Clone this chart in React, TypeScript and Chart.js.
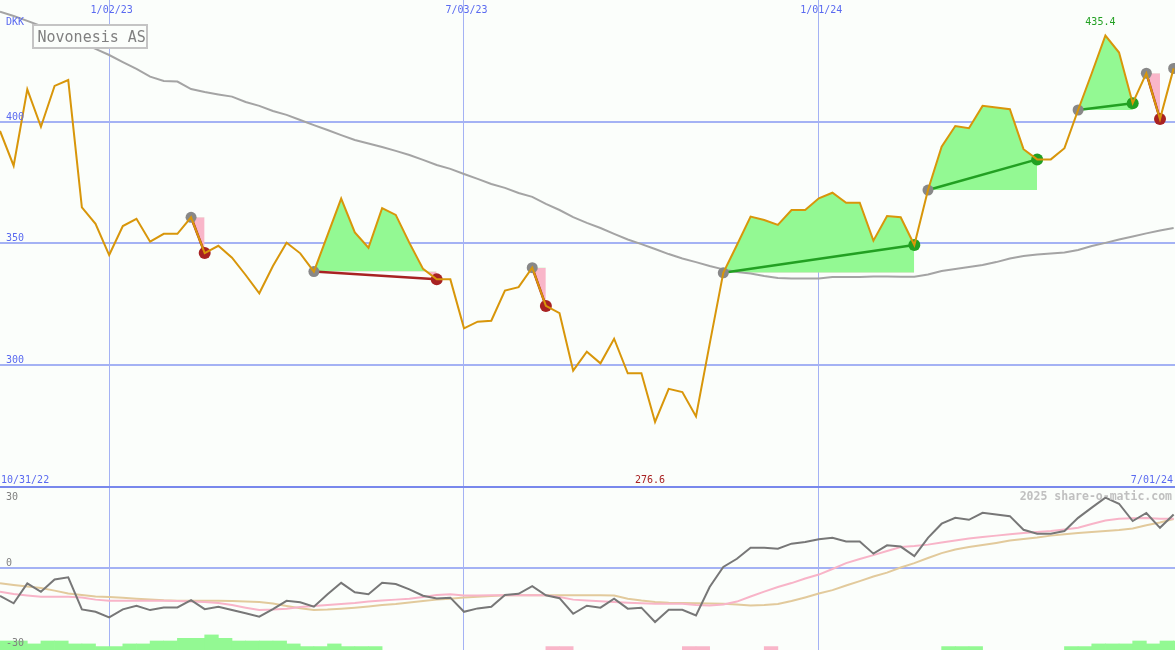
import React, { useEffect, useRef } from 'react';
import { Chart, registerables } from 'chart.js';

Chart.register(...registerables);

// ---------- data (weekly, week 0 = 2022-11-07) ----------
const FIRST_WEEK = '2022-11-07';

const closePrices = [
  396.2, 381.9, 413.3, 397.9, 414.7, 417.1, 364.8, 358.0, 345.2, 357.1,
  360.1, 350.7, 353.9, 353.9, 360.7, 346.0, 349.0, 344.1, 337.0, 329.5,
  340.7, 350.3, 345.9, 338.4, 353.4, 368.4, 354.5, 348.2, 364.5, 361.7,
  350.2, 339.5, 335.2, 335.2, 315.1, 317.8, 318.2, 330.6, 332.0, 340.0,
  324.3, 321.3, 297.7, 305.5, 300.7, 310.8, 296.6, 296.6, 276.6, 290.2,
  288.9, 278.9, 308.6, 337.9, 349.3, 361.0, 359.6, 357.6, 363.7, 363.7,
  368.5, 370.8, 366.7, 366.7, 351.1, 361.2, 360.7, 349.3, 371.9, 389.7,
  398.2, 397.3, 406.5, 405.8, 405.1, 388.7, 384.5, 384.5, 389.1, 404.8,
  419.9, 435.4, 428.4, 407.6, 419.9, 401.1, 421.9,
];

const longAverage = [
  445.2, 443.4, 441.4, 439.3, 437.3, 434.8, 432.3, 429.9, 427.4, 424.5,
  421.7, 418.5, 416.7, 416.5, 413.4, 412.2, 411.2, 410.3, 408.1, 406.5,
  404.4, 402.8, 400.7, 398.6, 396.6, 394.5, 392.5, 391.0, 389.6, 388.0,
  386.3, 384.3, 382.2, 380.6, 378.5, 376.5, 374.4, 372.8, 370.7, 369.1,
  366.2, 363.7, 360.8, 358.4, 356.3, 353.9, 351.6, 349.7, 347.7, 345.6,
  343.8, 342.3, 340.7, 339.3, 338.2, 337.6, 336.6, 335.8, 335.6, 335.6,
  335.6, 336.2, 336.2, 336.2, 336.4, 336.4, 336.3, 336.3, 337.2, 338.6,
  339.5, 340.3, 341.1, 342.3, 343.8, 344.8, 345.4, 345.8, 346.2, 347.3,
  348.9, 350.2, 351.6, 352.8, 354.1, 355.3, 356.3,
];

const momentum = [
  -11.6, -14.6, -6.4, -9.9, -4.8, -3.9, -17.1, -18.1, -20.4, -17.1,
  -15.6, -17.4, -16.3, -16.3, -13.3, -17.0, -16.0, -17.4, -18.7, -20.1,
  -17.0, -13.6, -14.2, -16.0, -10.9, -6.2, -10.1, -10.9, -6.2, -6.7,
  -8.9, -11.5, -12.6, -12.3, -18.1, -16.7, -16.0, -11.2, -10.7, -7.6,
  -11.3, -12.5, -18.9, -15.6, -16.4, -12.7, -16.8, -16.4, -22.3, -17.3,
  -17.3, -19.6, -7.9, 0.3, 3.7, 8.2, 8.2, 7.8, 9.9, 10.6,
  11.7, 12.3, 10.8, 10.8, 5.8, 9.2, 8.7, 4.8, 12.3, 18.1,
  20.5, 19.7, 22.6, 21.9, 21.2, 15.6, 14.0, 14.0, 15.1, 20.5,
  24.7, 28.8, 26.3, 19.2, 22.5, 16.4, 21.9,
];

const momentumFast = [
  -9.9, -10.8, -11.4, -11.9, -11.9, -11.9, -12.2, -13.1, -13.6, -13.6,
  -13.6, -13.6, -13.6, -13.7, -13.9, -14.1, -14.5, -15.3, -16.4, -17.4,
  -17.2, -16.8, -16.1, -15.7, -15.3, -14.9, -14.5, -13.9, -13.5, -13.1,
  -12.7, -12.0, -11.2, -10.9, -11.4, -11.4, -11.3, -11.3, -11.3, -11.3,
  -11.3, -12.0, -13.1, -13.5, -13.8, -14.1, -14.4, -14.6, -14.8, -14.8,
  -14.8, -15.3, -15.5, -15.1, -13.9, -11.8, -9.8, -7.9, -6.3, -4.4,
  -2.8, -0.5, 1.9, 3.6, 5.2, 6.9, 8.5, 8.9, 9.5, 10.4,
  11.2, 12.0, 12.6, 13.2, 13.8, 14.3, 14.7, 15.1, 15.7, 16.4,
  18.0, 19.4, 20.1, 20.3, 20.4, 20.1, 20.1,
];

const momentumSlow = [
  -6.4, -7.1, -7.7, -8.3, -9.4, -10.6, -11.2, -11.8, -12.0, -12.3,
  -12.7, -13.0, -13.4, -13.6, -13.6, -13.6, -13.6, -13.7, -13.9, -14.1,
  -14.7, -15.7, -16.6, -17.4, -17.2, -16.8, -16.4, -15.9, -15.3, -14.9,
  -14.3, -13.7, -13.1, -12.7, -12.2, -11.9, -11.6, -11.3, -11.3, -11.3,
  -11.3, -11.3, -11.3, -11.3, -11.3, -11.4, -12.7, -13.5, -14.1, -14.4,
  -14.5, -14.6, -14.7, -14.8, -15.1, -15.5, -15.3, -14.9, -13.7, -12.2,
  -10.6, -9.2, -7.3, -5.5, -3.6, -2.0, 0.1, 1.9, 4.0, 6.0,
  7.5, 8.5, 9.3, 10.2, 11.2, 11.8, 12.4, 13.2, 13.8, 14.3,
  14.7, 15.1, 15.5, 16.1, 17.5, 18.6, 20.0,
];

const flowBars = [
  3.7, 3.7, 2.5, 3.7, 3.7, 2.5, 2.5, 1.4, 1.4, 2.5,
  2.5, 3.7, 3.7, 4.8, 4.8, 6.2, 4.8, 3.7, 3.7, 3.7,
  3.7, 2.5, 1.4, 1.4, 2.5, 1.4, 1.4, 1.4, 0, 0,
  0, 0, 0, 0, 0, 0, 0, 0, 0, 0,
  -1.4, -1.4, 0, 0, 0, 0, 0, 0, 0, 0,
  -1.4, -1.4, 0, 0, 0, 0, -1.4, 0, 0, 0,
  0, 0, 0, 0, 0, 0, 0, 0, 0, 1.4,
  1.4, 1.4, 0, 0, 0, 0, 0, 0, 1.4, 1.4,
  2.5, 2.5, 2.5, 3.7, 2.5, 3.7, 3.7,
];

const signalStarts = [14, 23, 39, 53, 68, 79, 84, 86];
const signalEnds = [15, 32, 40, 67, 76, 83, 85];

const priceTicks = [300, 350, 400];
const oscTicks = [30, 0, -30];
const dateTicks = ['2023-01-02', '2023-07-03', '2024-01-01'];
const dateTickLabels = ['1/02/23', '7/03/23', '1/01/24'];
const rangeLabels = ['10/31/22', '7/01/24'];
const stockName = 'Novonesis AS';
const currency = 'DKK';
const credit = '2025 share-o-matic.com';

// ---------- layout / style ----------
const W = 1175;
const H = 650;
const PRICE_MIN = 182.9;
const PRICE_MAX = 450;
const PANEL_SPLIT = 250;
const OSC_MIN = -33.8;
const OSC_MAX = 233.3;
const X_MIN = 0;
const X_MAX = 86.1;

const MONO = '"DejaVu Sans Mono", "Liberation Mono", monospace';
const BG = '#fbfefb';
const GRID_H = '#a4b2f4';
const GRID_V = '#a4b2f4';
const SEP = '#7888ec';
const TEXT_BLUE = '#5a6af0';
const CLOSE_COLOR = '#d8960a';
const MA_COLOR = '#a4a4a4';
const FILL_UP = '#93f993';
const FILL_DOWN = '#f9b6c9';
const UP = '#22a022';
const DOWN = '#a82222';
const DOT_GREY = '#888888';
const OSC_COLOR = '#777777';
const OSC_FAST = '#f8b4c8';
const OSC_SLOW = '#e2ca9c';
const LABEL_GREY = '#808080';
const BOX_BORDER = '#c4c4c4';
const CREDIT_COLOR = '#c0c0c0';

const weekOf = (iso: string) => (Date.parse(iso) - Date.parse(FIRST_WEEK)) / 6048e5;
const xy = (arr: number[], from = 0) => arr.map((v, i) => ({ x: from + i, y: v }));

function buildDatasets(): any[] {
  const sets: any[] = [];

  // signal shading (above / below the entry level)
  signalEnds.forEach((e, i) => {
    const s = signalStarts[i];
    sets.push({
      type: 'line',
      yAxisID: 'y',
      order: 9,
      data: xy(closePrices.slice(s, e + 1), s),
      borderColor: 'transparent',
      borderWidth: 0,
      pointRadius: 0,
      fill: { target: { value: closePrices[s] }, above: FILL_UP, below: FILL_DOWN },
    });
  });

  // flow bars at the bottom of the lower panel
  sets.push({
    type: 'bar',
    yAxisID: 'y2',
    order: 8,
    data: flowBars.map((v, i) => ({ x: i + 0.5, y: v === 0 ? null : [OSC_MIN, OSC_MIN + Math.abs(v)] })),
    backgroundColor: (c: any) => (flowBars[c.dataIndex] >= 0 ? FILL_UP : FILL_DOWN),
    borderWidth: 0,
    barPercentage: 1,
    categoryPercentage: 1,
    grouped: false,
  });

  sets.push({
    type: 'line', yAxisID: 'y', order: 7, data: xy(longAverage),
    borderColor: MA_COLOR, borderWidth: 2, pointRadius: 0, fill: false,
  });
  sets.push({
    type: 'line', yAxisID: 'y2', order: 6, data: xy(momentumSlow),
    borderColor: OSC_SLOW, borderWidth: 2, pointRadius: 0, fill: false,
  });
  sets.push({
    type: 'line', yAxisID: 'y2', order: 5, data: xy(momentumFast),
    borderColor: OSC_FAST, borderWidth: 2, pointRadius: 0, fill: false,
  });
  sets.push({
    type: 'line', yAxisID: 'y2', order: 4, data: xy(momentum),
    borderColor: OSC_COLOR, borderWidth: 2, pointRadius: 0, fill: false,
  });

  // signal connecting lines
  signalEnds.forEach((e, i) => {
    const s = signalStarts[i];
    sets.push({
      type: 'line', yAxisID: 'y', order: 3,
      data: [{ x: s, y: closePrices[s] }, { x: e, y: closePrices[e] }],
      borderColor: closePrices[e] >= closePrices[s] ? UP : DOWN,
      borderWidth: 2.5, pointRadius: 0, fill: false,
    });
  });

  // signal dots
  const dots: { x: number; y: number }[] = [];
  const dotColors: string[] = [];
  const dotRadii: number[] = [];
  signalStarts.forEach((s) => {
    dots.push({ x: s, y: closePrices[s] });
    dotColors.push(DOT_GREY);
    dotRadii.push(5.5);
  });
  signalEnds.forEach((e, i) => {
    dots.push({ x: e, y: closePrices[e] });
    dotColors.push(closePrices[e] >= closePrices[signalStarts[i]] ? UP : DOWN);
    dotRadii.push(6);
  });
  sets.push({
    type: 'line', yAxisID: 'y', order: 2, data: dots, showLine: false,
    pointRadius: dotRadii, pointBackgroundColor: dotColors,
    pointBorderWidth: 0, pointBorderColor: 'transparent', fill: false,
  });

  sets.push({
    type: 'line', yAxisID: 'y', order: 1, data: xy(closePrices),
    borderColor: CLOSE_COLOR, borderWidth: 2, pointRadius: 0, fill: false,
  });
  return sets;
}

const overlayPlugin = {
  id: 'overlay',
  beforeDraw(chart: any) {
    const { ctx } = chart;
    ctx.save();
    ctx.fillStyle = BG;
    ctx.fillRect(0, 0, chart.width, chart.height);
    ctx.restore();
  },
  afterDraw(chart: any) {
    const { ctx } = chart;
    const { x, y, y2 } = chart.scales;
    ctx.save();
    ctx.textBaseline = 'alphabetic';
    ctx.font = `10px ${MONO}`;

    // dates along the top
    ctx.fillStyle = TEXT_BLUE;
    ctx.textAlign = 'center';
    dateTicks.forEach((d, i) => {
      ctx.fillText(dateTickLabels[i], x.getPixelForValue(weekOf(d)) + 2.5, 13);
    });

    // price ticks + currency
    ctx.textAlign = 'left';
    priceTicks.forEach((v) => ctx.fillText(String(v), 6, y.getPixelForValue(v) - 2));
    ctx.fillText(currency, 6, 25);

    // range labels along the panel split
    const splitY = y.getPixelForValue(PANEL_SPLIT);
    ctx.fillText(rangeLabels[0], 1, splitY - 4);
    ctx.textAlign = 'right';
    ctx.fillText(rangeLabels[1], W - 2, splitY - 4);

    // min / max labels
    let minI = 0;
    let maxI = 0;
    closePrices.forEach((v, i) => {
      if (v < closePrices[minI]) minI = i;
      if (v > closePrices[maxI]) maxI = i;
    });
    ctx.textAlign = 'center';
    ctx.fillStyle = DOWN;
    ctx.fillText(closePrices[minI].toFixed(1), x.getPixelForValue(minI) - 5, splitY - 4);
    ctx.fillStyle = UP;
    ctx.fillText(closePrices[maxI].toFixed(1), x.getPixelForValue(maxI) - 5, y.getPixelForValue(closePrices[maxI]) - 10.5);

    // oscillator ticks
    ctx.textAlign = 'left';
    ctx.fillStyle = LABEL_GREY;
    oscTicks.forEach((v) => {
      const py = y2.getPixelForValue(v);
      ctx.fillText(String(v), 6, v === 0 ? py - 2 : py + 5.5);
    });

    // credit
    ctx.textAlign = 'right';
    ctx.fillStyle = CREDIT_COLOR;
    ctx.font = `bold 11.5px ${MONO}`;
    ctx.fillText(credit, W - 3, y2.getPixelForValue(30) + 5.5);

    // name box
    ctx.fillStyle = BG;
    ctx.fillRect(33, 25, 114, 23);
    ctx.strokeStyle = BOX_BORDER;
    ctx.lineWidth = 2;
    ctx.strokeRect(33, 25, 114, 23);
    ctx.fillStyle = LABEL_GREY;
    ctx.textAlign = 'left';
    ctx.font = `15px ${MONO}`;
    ctx.fillText(stockName, 37.5, 42);
    ctx.restore();
  },
};

export default function App() {
  const ref = useRef<HTMLCanvasElement>(null);

  useEffect(() => {
    const canvas = ref.current;
    if (!canvas) return;
    const chart = new Chart(canvas, {
      type: 'line',
      data: { datasets: buildDatasets() },
      options: {
        responsive: false,
        animation: false,
        events: [],
        layout: { padding: 0, autoPadding: false },
        plugins: {
          legend: { display: false },
          tooltip: { enabled: false },
          title: { display: false },
        },
        elements: { line: { tension: 0 } },
        scales: {
          x: {
            type: 'linear',
            min: X_MIN,
            max: X_MAX,
            offset: false,
            border: { display: false },
            ticks: { display: false },
            grid: { drawTicks: false, offset: false, color: GRID_V, lineWidth: 1 },
            afterBuildTicks: (s: any) => {
              s.ticks = dateTicks.map((d) => ({ value: weekOf(d) }));
            },
          },
          y: {
            type: 'linear',
            position: 'left',
            min: PRICE_MIN,
            max: PRICE_MAX,
            border: { display: false },
            ticks: { display: false },
            grid: {
              drawTicks: false,
              color: (c: any) => (c.tick && c.tick.value === PANEL_SPLIT ? SEP : GRID_H),
              lineWidth: 2,
            },
            afterBuildTicks: (s: any) => {
              s.ticks = [PANEL_SPLIT, ...priceTicks].map((value) => ({ value }));
            },
          },
          y2: {
            type: 'linear',
            position: 'right',
            min: OSC_MIN,
            max: OSC_MAX,
            border: { display: false },
            ticks: { display: false },
            grid: { drawTicks: false, color: GRID_H, lineWidth: 2 },
            afterBuildTicks: (s: any) => {
              s.ticks = [{ value: 0 }];
            },
          },
        },
      } as any,
      plugins: [overlayPlugin],
    });
    return () => chart.destroy();
  }, []);

  return (
    <div style={{ position: 'fixed', left: 0, top: 0, width: W, height: H, background: BG }}>
      <canvas ref={ref} width={W} height={H} style={{ display: 'block', width: W, height: H }} />
    </div>
  );
}
